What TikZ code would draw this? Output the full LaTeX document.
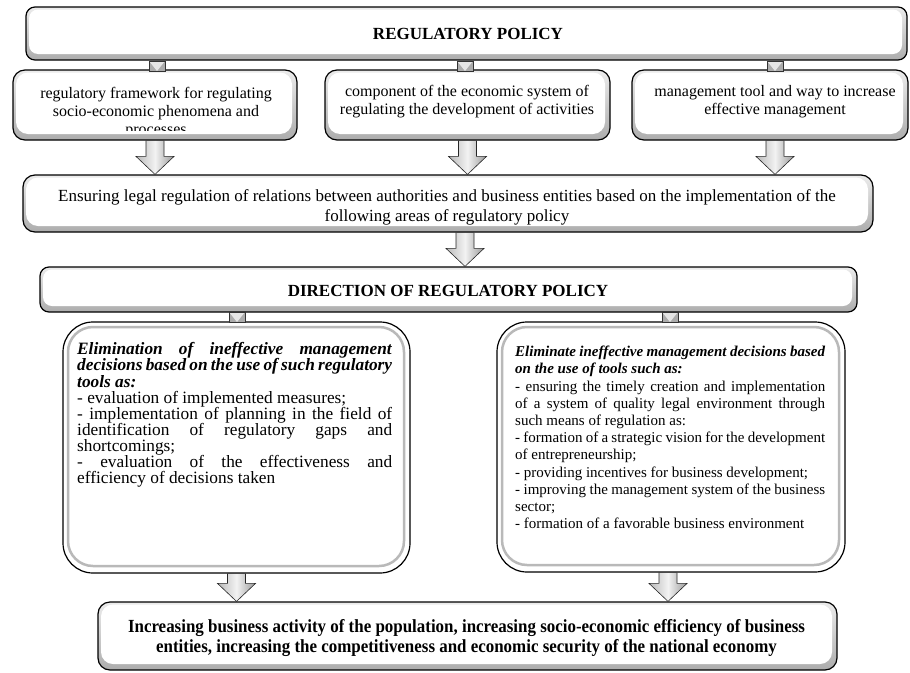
\documentclass[tikz,border=0pt]{standalone}
\usepackage{fontspec}
\setmainfont{Liberation Serif}
\newfontfamily\condfont[FakeStretch=0.915]{Liberation Serif}
\usetikzlibrary{calc}
\tikzset{
  bev/.style={draw=black, line width=1.2pt, rounded corners=#1, inner sep=0pt,
    top color=gray!15, bottom color=gray!65,
    path picture={\fill[white, rounded corners=#1]
      ([shift={(3pt,-2.5pt)}]path picture bounding box.north west) rectangle
      ([shift={(-5pt,6pt)}]path picture bounding box.south east);}},
  bigbev/.style={draw=black, line width=1.2pt, rounded corners=30pt, inner sep=0pt, fill=white,
    path picture={\draw[gray!55, line width=2.5pt, rounded corners=25pt]
      ([shift={(5pt,-5pt)}]path picture bounding box.north west) rectangle
      ([shift={(-6pt,7pt)}]path picture bounding box.south east);}},
  sqc/.style={draw=gray!40!black, line width=0.6pt, minimum width=16pt, minimum height=10pt,
    inner sep=0pt, fill=gray!65,
    path picture={\fill[gray!20] (path picture bounding box.north west) --
      (path picture bounding box.north east) -- (path picture bounding box.south) -- cycle;}},
  barr/.style={draw=black!85, line width=0.6pt, left color=gray!55, right color=gray!80, middle color=gray!10},
  txt/.style={inner sep=0pt, align=center},
}
% block arrow: x taken from #1, from the y of #1 down to the y of #2
\newcommand\barrow[2]{\path[barr] let \p1=#1, \p2=#2 in
  (\x1-9pt,\y1) -- (\x1+9pt,\y1) -- (\x1+9pt,\y2+18pt) -- (\x1+19pt,\y2+18pt) --
  (\x1,\y2) -- (\x1-19pt,\y2+18pt) -- (\x1-9pt,\y2+18pt) -- cycle;}
\newcommand\jline[2]{\makebox[#1][s]{#2}}
\newcommand\lline[2]{\makebox[#1][l]{#2}}
\begin{document}
\begin{tikzpicture}[x=1pt,y=-1pt]
\useasboundingbox (0,0) rectangle (910,672);
% boxes
\node[bev=9pt, minimum width=881pt, minimum height=53pt] (top) at (466.5,33.5) {};
\node[bev=12pt, minimum width=284pt, minimum height=70pt] (f1) at (155,105) {};
\node[bev=12pt, minimum width=285pt, minimum height=70pt] (f2) at (467.5,105) {};
\node[bev=12pt, minimum width=276pt, minimum height=70pt] (f3) at (770,105) {};
\node[bev=12pt, minimum width=850pt, minimum height=57pt] (ens) at (448,203.5) {};
\node[bev=9pt, minimum width=817pt, minimum height=45pt] (dir) at (448.5,289.5) {};
\node[bigbev, minimum width=347pt, minimum height=251pt] (lb) at (236.5,447.5) {};
\node[bigbev, minimum width=348pt, minimum height=250pt] (rb) at (671,447) {};
\node[bev=12pt, minimum width=739pt, minimum height=68pt] (res) at (467.5,636) {};
% square connectors
\node[sqc] (s1) at (157,66) {};
\node[sqc] (s2) at (465,66) {};
\node[sqc] (s3) at (775,66) {};
\node[sqc] (s4) at (237,317) {};
\node[sqc] (s5) at (670,317) {};
% block arrows
\barrow{(f1.south)}{(ens.north)}
\barrow{(f2.south)}{(ens.north)}
\barrow{([xshift=5pt]f3.south)}{(ens.north)}
\barrow{([xshift=17pt]ens.south)}{(dir.north)}
\barrow{(lb.south)}{(res.north)}
\barrow{([xshift=-3pt]rb.south)}{(res.north)}
% texts
\node[txt, font=\bfseries\fontsize{17}{18}\selectfont] (toptxt) at (468,33.5) {REGULATORY POLICY};
\begin{scope}
\clip (14,72) rectangle (296,130);
\node[txt, anchor=north, font=\fontsize{16}{18}\selectfont] (f1t) at (156,87) {regulatory framework for regulating\\ socio-economic phenomena and\\ processes};
\end{scope}
\node[txt, anchor=north, font=\fontsize{16}{18}\selectfont] (f2t) at (467,85.5) {component of the economic system of\\ regulating the development of activities};
\node[txt, anchor=north, font=\fontsize{16}{18}\selectfont] (f3t) at (775,85.5) {management tool and way to increase\\ effective management};
\node[txt, font=\fontsize{17}{20}\selectfont] (enst) at (447,207) {Ensuring legal regulation of relations between authorities and business entities based on the implementation of the\\ following areas of regulatory policy};
\node[txt, font=\bfseries\fontsize{17}{18}\selectfont] (dirt) at (448,290.5) {DIRECTION OF REGULATORY POLICY};
\node[inner sep=0pt, align=left, anchor=north west, font=\fontsize{17.3}{16.1}\selectfont] (lbt) at (77,342.5) {%
\jline{315pt}{\textbf{\textit{Elimination of ineffective management}}}\\
\jline{315pt}{\textbf{\textit{decisions based on the use of such regulatory}}}\\
\lline{315pt}{\textbf{\textit{tools as:}}}\\
\lline{315pt}{- evaluation of implemented measures;}\\
\jline{315pt}{- implementation of planning in the field of}\\
\jline{315pt}{identification of regulatory gaps and}\\
\lline{315pt}{shortcomings;}\\
\jline{315pt}{- evaluation of the effectiveness and}\\
\lline{315pt}{efficiency of decisions taken}};
\node[inner sep=0pt, align=left, anchor=north west, font=\fontsize{15}{17.2}\selectfont] (rbt) at (515,346) {%
\jline{310pt}{\textbf{\textit{Eliminate ineffective management decisions based}}}\\
\lline{310pt}{\textbf{\textit{on the use of tools such as:}}}\\
\jline{310pt}{- ensuring the timely creation and implementation}\\
\jline{310pt}{of a system of quality legal environment through}\\
\lline{310pt}{such means of regulation as:}\\
\jline{310pt}{- formation of a strategic vision for the development}\\
\lline{310pt}{of entrepreneurship;}\\
\lline{310pt}{- providing incentives for business development;}\\
\jline{310pt}{- improving the management system of the business}\\
\lline{310pt}{sector;}\\
\lline{310pt}{- formation of a favorable business environment}};
\node[txt, font=\condfont\bfseries\fontsize{18.5}{20}\selectfont] (rest) at (466.5,638.5) {Increasing business activity of the population, increasing socio-economic efficiency of business\\ entities, increasing the competitiveness and economic security of the national economy};
\end{tikzpicture}
\end{document}
